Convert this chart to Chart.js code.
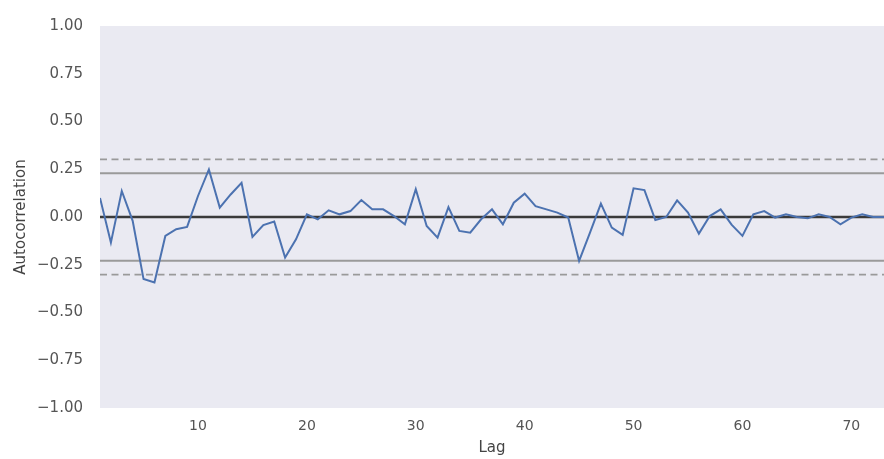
<!DOCTYPE html>
<html>
<head>
<meta charset="utf-8">
<script src="https://cdn.jsdelivr.net/npm/chart.js@4/dist/chart.umd.min.js"></script>
<style>
    html, body { margin: 0; padding: 0; background: #ffffff; }
    #wrap { width: 884px; height: 459px; }
</style>
</head>
<body>
<div id="wrap"><canvas id="acfChart" width="884" height="459"></canvas></div>
<script>
// autocorrelation by lag
var lags = [];
for (var i = 1; i <= 73; i++) { lags.push(i); }

var acf = [
    0.100, -0.134, 0.136, -0.020, -0.325, -0.343, -0.099, -0.064, -0.052, 0.110,
    0.249, 0.049, 0.118, 0.179, -0.104, -0.042, -0.024, -0.212, -0.117, 0.014,
    -0.012, 0.035, 0.014, 0.031, 0.089, 0.040, 0.040, 0.005, -0.038, 0.145,
    -0.047, -0.108, 0.052, -0.073, -0.082, -0.012, 0.040, -0.038, 0.075, 0.122,
    0.057, 0.040, 0.023, -0.003, -0.230, -0.082, 0.070, -0.056, -0.094, 0.150,
    0.141, -0.016, 0.000, 0.087, 0.023, -0.087, 0.005, 0.040, -0.040, -0.099,
    0.014, 0.031, -0.003, 0.014, 0.000, -0.007, 0.014, 0.000, -0.038, -0.003,
    0.014, 0.000, 0.000
];

var xTicks = [10, 20, 30, 40, 50, 60, 70];
var yTicks = [-1, -0.75, -0.5, -0.25, 0, 0.25, 0.5, 0.75, 1];

// confidence bands for n = 73
var n = lags.length;
var z95 = 1.959963984540054 / Math.sqrt(n);
var z99 = 2.5758293035489004 / Math.sqrt(n);

var points = [];
for (var i = 0; i < lags.length; i++) {
    points.push({ x: lags[i], y: acf[i] });
}

function hline(val, color, width, dash) {
    return {
        data: [{ x: lags[0], y: val }, { x: lags[lags.length - 1], y: val }],
        borderColor: color,
        borderWidth: width,
        borderDash: dash,
        pointRadius: 0,
        fill: false
    };
}

var plotBg = {
    id: 'plotBg',
    beforeDraw: function (chart) {
        var ctx = chart.ctx;
        var a = chart.chartArea;
        ctx.save();
        ctx.fillStyle = '#ffffff';
        ctx.fillRect(0, 0, chart.width, chart.height);
        ctx.fillStyle = '#eaeaf2';
        ctx.fillRect(a.left, a.top, a.right - a.left, a.bottom - a.top);
        ctx.restore();
    }
};

var ctx = document.getElementById('acfChart').getContext('2d');
new Chart(ctx, {
    type: 'line',
    data: {
        datasets: [
            {
                data: points,
                borderColor: '#4c72b0',
                borderWidth: 2,
                pointRadius: 0,
                tension: 0,
                fill: false
            },
            hline(z99, '#9a9a9a', 1.8, [7, 4.5]),
            hline(z95, '#9a9a9a', 2, []),
            hline(0, '#3a3a3a', 2.6, []),
            hline(-z95, '#9a9a9a', 2, []),
            hline(-z99, '#9a9a9a', 1.8, [7, 4.5])
        ]
    },
    options: {
        responsive: false,
        animation: false,
        layout: { padding: { top: 25.5, right: 0, bottom: 0, left: 0 } },
        plugins: {
            legend: { display: false },
            tooltip: { enabled: false }
        },
        scales: {
            x: {
                type: 'linear',
                min: 1,
                max: 73,
                grid: { display: false, drawTicks: false },
                border: { display: false },
                afterBuildTicks: function (axis) {
                    axis.ticks = xTicks.map(function (v) { return { value: v }; });
                },
                afterFit: function (axis) { axis.height = 51; },
                ticks: {
                    padding: 10,
                    maxRotation: 0,
                    color: '#555555',
                    font: { family: 'DejaVu Sans', size: 14 }
                },
                title: {
                    display: true,
                    text: 'Lag',
                    color: '#444444',
                    padding: { top: 0, bottom: 2 },
                    font: { family: 'DejaVu Sans', size: 15 }
                }
            },
            y: {
                min: -1,
                max: 1,
                grid: { display: false, drawTicks: false },
                border: { display: false },
                afterBuildTicks: function (axis) {
                    axis.ticks = yTicks.map(function (v) { return { value: v }; });
                },
                afterFit: function (axis) { axis.width = 100; },
                ticks: {
                    padding: 17,
                    color: '#555555',
                    font: { family: 'DejaVu Sans', size: 15 },
                    callback: function (v) {
                        var s = Math.abs(v).toFixed(2);
                        return v < 0 ? '\u2212' + s : s;
                    }
                },
                title: {
                    display: true,
                    text: 'Autocorrelation',
                    color: '#444444',
                    padding: { top: 12, bottom: 0 },
                    font: { family: 'DejaVu Sans', size: 15 }
                }
            }
        }
    },
    plugins: [plotBg]
});
</script>
</body>
</html>
